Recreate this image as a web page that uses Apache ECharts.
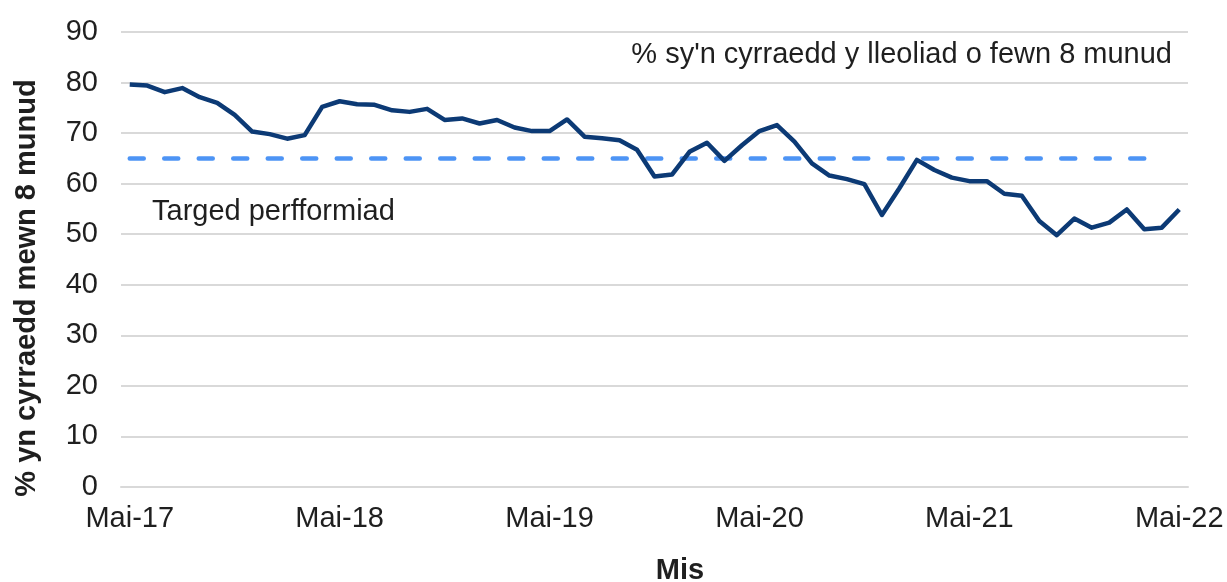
<!DOCTYPE html>
<html>
<head>
<meta charset="utf-8">
<script src="https://cdn.jsdelivr.net/npm/echarts@6/dist/echarts.min.js"></script>
<style>
  html, body { margin: 0; padding: 0; background: #fff; }
  #container { width: 1227px; height: 582px; }
</style>
</head>
<body>
<div id="container"></div>

<script type="text/javascript">
    // misoedd (Mai-17 .. Mai-22)
    var months = [
        'Mai-17','Meh-17','Gorff-17','Awst-17','Medi-17','Hyd-17','Tach-17','Rhag-17','Ion-18','Chwef-18','Maw-18','Ebr-18',
        'Mai-18','Meh-18','Gorff-18','Awst-18','Medi-18','Hyd-18','Tach-18','Rhag-18','Ion-19','Chwef-19','Maw-19','Ebr-19',
        'Mai-19','Meh-19','Gorff-19','Awst-19','Medi-19','Hyd-19','Tach-19','Rhag-19','Ion-20','Chwef-20','Maw-20','Ebr-20',
        'Mai-20','Meh-20','Gorff-20','Awst-20','Medi-20','Hyd-20','Tach-20','Rhag-20','Ion-21','Chwef-21','Maw-21','Ebr-21',
        'Mai-21','Meh-21','Gorff-21','Awst-21','Medi-21','Hyd-21','Tach-21','Rhag-21','Ion-22','Chwef-22','Maw-22','Ebr-22',
        'Mai-22'
    ];
    // % sy'n cyrraedd o fewn 8 munud
    var pct8min = [
        79.6, 79.4, 78.1, 78.9, 77.1, 76.0, 73.6, 70.3, 69.8, 68.9, 69.6, 75.2,
        76.3, 75.7, 75.6, 74.5, 74.2, 74.8, 72.6, 72.9, 71.9, 72.6, 71.1, 70.4,
        70.4, 72.7, 69.3, 69.0, 68.6, 66.7, 61.4, 61.8, 66.3, 68.1, 64.5, 67.6,
        70.4, 71.6, 68.3, 64.0, 61.6, 60.9, 59.9, 53.8, 59.1, 64.7, 62.7, 61.2,
        60.5, 60.5, 58.0, 57.6, 52.6, 49.8, 53.1, 51.3, 52.3, 54.9, 51.0, 51.3,
        54.9
    ];
    // targed perfformiad (65%)
    var target = [
        65, 65, 65, 65, 65, 65, 65, 65, 65, 65, 65, 65,
        65, 65, 65, 65, 65, 65, 65, 65, 65, 65, 65, 65,
        65, 65, 65, 65, 65, 65, 65, 65, 65, 65, 65, 65,
        65, 65, 65, 65, 65, 65, 65, 65, 65, 65, 65, 65,
        65, 65, 65, 65, 65, 65, 65, 65, 65, 65, 65, null,
        null
    ];
    var yTicks = [0, 10, 20, 30, 40, 50, 60, 70, 80, 90];

    var font = 'Liberation Sans, Arial, sans-serif';
    var txt = '#1f1f1f';

    var dom = document.getElementById("container");
    var myChart = echarts.init(dom);
    var option;

    option = {
        animation: false,
        grid: { left: 121, right: 39, top: 32, bottom: 95 },
        xAxis: {
            type: 'category',
            data: months,
            boundaryGap: true,
            axisLine: { lineStyle: { color: '#d9d9d9', width: 2 } },
            axisTick: { interval: 11, length: 7, lineStyle: { color: '#d9d9d9', width: 2 } },
            axisLabel: { interval: 11, margin: 17, fontSize: 29, fontFamily: font, color: txt }
        },
        yAxis: {
            type: 'value',
            min: yTicks[0],
            max: yTicks[yTicks.length - 1],
            interval: 10,
            axisLine: { show: false },
            axisTick: { show: false },
            axisLabel: { margin: 23, fontSize: 29, fontFamily: font, color: txt },
            splitLine: { lineStyle: { color: '#d9d9d9', width: 2 } }
        },
        graphic: [
            { type: 'text', position: [27, 288], rotation: Math.PI / 2,
              style: { text: '% yn cyrraedd mewn 8 munud', font: 'bold 29px ' + font, fill: txt,
                       textAlign: 'center', textVerticalAlign: 'middle' } },
            { type: 'text', position: [680, 571],
              style: { text: 'Mis', font: 'bold 29px ' + font, fill: txt, textAlign: 'center', textVerticalAlign: 'middle' } },
            { type: 'text', position: [1172, 55],
              style: { text: "% sy'n cyrraedd y lleoliad o fewn 8 munud", font: '29px ' + font, fill: txt,
                       textAlign: 'right', textVerticalAlign: 'middle' } },
            { type: 'text', position: [152, 212],
              style: { text: 'Targed perfformiad', font: '29px ' + font, fill: txt,
                       textAlign: 'left', textVerticalAlign: 'middle' } }
        ],
        series: [
            {
                name: 'Targed perfformiad',
                type: 'line',
                data: target,
                symbol: 'none',
                lineStyle: { color: '#4d94f5', width: 4.5, type: [14, 20.5], cap: 'round' },
                z: 2
            },
            {
                name: "% sy'n cyrraedd y lleoliad o fewn 8 munud",
                type: 'line',
                data: pct8min,
                symbol: 'none',
                lineStyle: { color: '#0c3a75', width: 4.5, join: 'round' },
                z: 3
            }
        ]
    };

    if (option && typeof option === 'object') {
        myChart.setOption(option);
    }
</script>
</body>
</html>
